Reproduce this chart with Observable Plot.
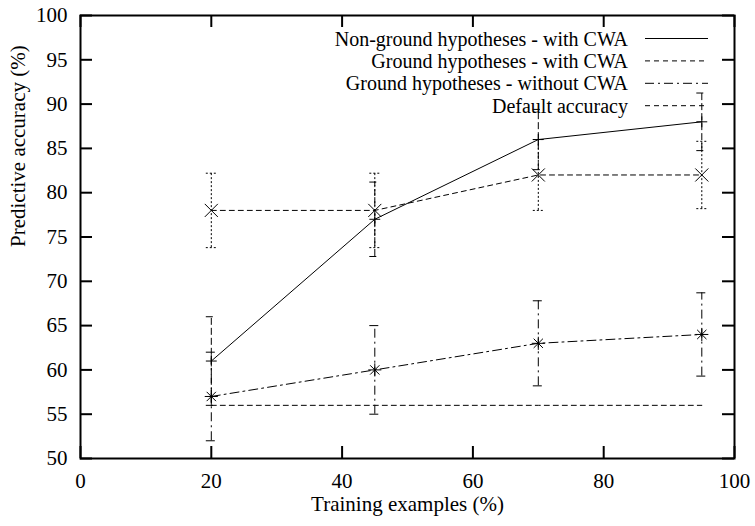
<!DOCTYPE html>
<html><head><meta charset="utf-8">
<script src="https://cdn.jsdelivr.net/npm/d3@7"></script>
<script src="https://cdn.jsdelivr.net/npm/@observablehq/plot@0.6"></script>
<style>body{margin:0;background:#fff} svg, svg text {font-family: "Liberation Serif", "Times New Roman", Times, "DejaVu Serif", serif !important;}</style>
</head><body><div id="chart"></div>
<script>
// ---- data ----
const trainingPct = [20, 45, 70, 95];
const nonGroundCWA = [61, 77, 86, 88];
const nonGroundCWAErr = [5, 4.2, 3.4, 3.25];
const groundCWA = [78, 78, 82, 82];
const groundCWAErr = [4.2, 4.2, 4, 3.8];
const groundNoCWA = [57, 60, 63, 64];
const groundNoCWAErr = [5, 5, 4.8, 4.7];
const defaultAcc = [56, 56, 56, 56];
const seriesNames = ["Non-ground hypotheses - with CWA", "Ground hypotheses - with CWA", "Ground hypotheses - without CWA", "Default accuracy"];
const xTicks = [0, 20, 40, 60, 80, 100];
const yTicks = [50, 55, 60, 65, 70, 75, 80, 85, 90, 95, 100];
const xLabel = "Training examples (%)";
const yLabel = "Predictive accuracy (%)";

// ---- layout / style ----
const W = 755, H = 526, MT = 15, MR = 21, MB = 68, ML = 80;
const plotW = W - ML - MR, plotH = H - MT - MB, TICK = 12;
const FONT = '"Liberation Serif", "Times New Roman", Times, "DejaVu Serif", serif';
const FS = 21, LEG_FS = 20;
const lineDash = ["none", "5,4", "9,4,2,4", "5,4"];
const barDash = ["7,3", "2,2", "9,4,2,4"];

const rows = (ys, errs) => trainingPct.map((x, i) => ({x, y: ys[i], lo: errs ? ys[i] - errs[i] : null, hi: errs ? ys[i] + errs[i] : null}));
const s1 = rows(nonGroundCWA, nonGroundCWAErr);
const s2 = rows(groundCWA, groundCWAErr);
const s3 = rows(groundNoCWA, groundNoCWAErr);
const s4 = rows(defaultAcc, null);

const errMarks = (data, dash) => [
  Plot.ruleX(data, {x: "x", y1: "lo", y2: "hi", stroke: "black", strokeWidth: 1, strokeDasharray: dash}),
  Plot.ruleY(data, {y: "hi", x1: "x", x2: "x", insetLeft: -5, insetRight: -5, stroke: "black", strokeWidth: 1, strokeDasharray: dash}),
  Plot.ruleY(data, {y: "lo", x1: "x", x2: "x", insetLeft: -5, insetRight: -5, stroke: "black", strokeWidth: 1, strokeDasharray: dash})
];

const chart = Plot.plot({
  width: W, height: H, marginTop: MT, marginRight: MR, marginBottom: MB, marginLeft: ML,
  style: {fontFamily: FONT, fontSize: FS + "px", background: "white", color: "black"},
  x: {domain: [0, 100]},
  y: {domain: [50, 100]},
  marks: [
    Plot.axisX(xTicks, {tickSize: 0, tickPadding: 15, label: null}),
    Plot.axisY(yTicks, {tickSize: 0, tickPadding: 13, label: null}),
    // inward ticks on all four sides
    Plot.ruleX(xTicks, {x: d => d, insetTop: plotH - TICK, strokeWidth: 2}),
    Plot.ruleX(xTicks, {x: d => d, insetBottom: plotH - TICK, strokeWidth: 2}),
    Plot.ruleY(yTicks, {y: d => d, insetRight: plotW - TICK, strokeWidth: 2}),
    Plot.ruleY(yTicks, {y: d => d, insetLeft: plotW - TICK, strokeWidth: 2}),
    // error bars
    ...errMarks(s1, barDash[0]),
    ...errMarks(s2, barDash[1]),
    ...errMarks(s3, barDash[2]),
    // lines
    Plot.line(s1, {x: "x", y: "y", stroke: "black", strokeWidth: 1}),
    Plot.line(s2, {x: "x", y: "y", stroke: "black", strokeWidth: 1, strokeDasharray: lineDash[1]}),
    Plot.line(s3, {x: "x", y: "y", stroke: "black", strokeWidth: 1, strokeDasharray: lineDash[2]}),
    Plot.line(s4, {x: "x", y: "y", stroke: "black", strokeWidth: 1, strokeDasharray: lineDash[3]}),
    // point symbols
    Plot.dot(s1, {x: "x", y: "y", symbol: "plus", r: 3.6, stroke: "black", strokeWidth: 1}),
    Plot.dot(s2, {x: "x", y: "y", symbol: "times", r: 6, stroke: "black", strokeWidth: 1}),
    Plot.dot(s3, {x: "x", y: "y", symbol: "plus", r: 4.3, stroke: "black", strokeWidth: 1}),
    Plot.dot(s3, {x: "x", y: "y", symbol: "times", r: 4.3, stroke: "black", strokeWidth: 1}),
    // axis titles
    Plot.text([xLabel], {text: d => d, frameAnchor: "bottom", dy: 52, fill: "black"}),
    Plot.text([yLabel], {text: d => d, frameAnchor: "left", rotate: -90, dx: -62, dy: 10, fill: "black"}),
    Plot.frame({stroke: "black", strokeWidth: 2})
  ]
});
document.getElementById("chart").appendChild(chart);

// ---- legend (inside plot, top right) ----
const svg = d3.select(chart);
const legend = svg.append("g").attr("font-size", LEG_FS);
const legTop = 38.5, legStep = 22.4, textRight = 628, sampleX1 = 645, sampleX2 = 708;
seriesNames.forEach((name, i) => {
  const y = legTop + i * legStep;
  legend.append("text").attr("x", textRight).attr("y", y).attr("dy", "0.35em")
    .attr("text-anchor", "end").attr("fill", "black").text(name);
  legend.append("line").attr("x1", sampleX1).attr("x2", sampleX2).attr("y1", y).attr("y2", y)
    .attr("stroke", "black").attr("stroke-width", 1)
    .attr("stroke-dasharray", lineDash[i] === "none" ? null : lineDash[i]);
});
</script>
</body></html>
